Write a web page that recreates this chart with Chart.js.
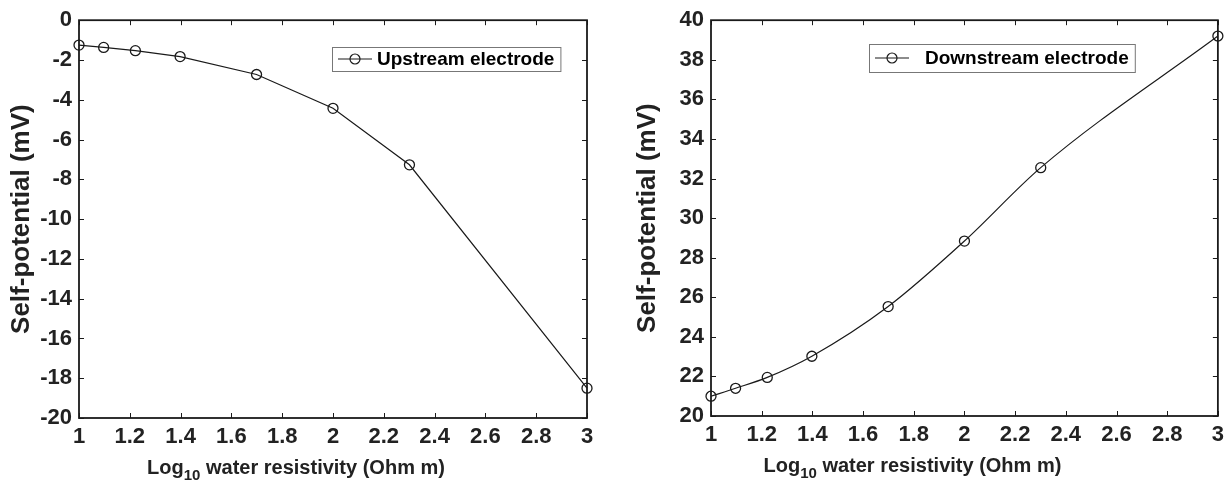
<!DOCTYPE html>
<html>
<head>
<meta charset="utf-8">
<script src="https://cdn.jsdelivr.net/npm/chart.js@4.4.1/dist/chart.umd.min.js"></script>
<style>
  html, body { margin: 0; padding: 0; background: #fff; }
  #wrap { position: relative; width: 1230px; height: 494px; }
  .box { position: absolute; top: 0; width: 615px; height: 494px; }
</style>
</head>
<body>
<div id="wrap">
  <div class="box" style="left:0"><canvas id="upChart" width="615" height="494"></canvas></div>
  <div class="box" style="left:615px"><canvas id="downChart" width="615" height="494"></canvas></div>
</div>
<script>
// log10 of water resistivity
const xValues = [1, 1.097, 1.222, 1.398, 1.699, 2, 2.301, 3];
const upstream = [-1.25, -1.37, -1.53, -1.83, -2.73, -4.43, -7.27, -18.5];
const downstream = [21.0, 21.4, 21.95, 23.02, 25.53, 28.84, 32.55, 39.2];

const xTicks = [1, 1.2, 1.4, 1.6, 1.8, 2, 2.2, 2.4, 2.6, 2.8, 3];
const xTickLabels = ["1", "1.2", "1.4", "1.6", "1.8", "2", "2.2", "2.4", "2.6", "2.8", "3"];
const upTicks = [-20, -18, -16, -14, -12, -10, -8, -6, -4, -2, 0];
const upTickLabels = ["-20", "-18", "-16", "-14", "-12", "-10", "-8", "-6", "-4", "-2", "0"];
const downTicks = [20, 22, 24, 26, 28, 30, 32, 34, 36, 38, 40];
const downTickLabels = ["20", "22", "24", "26", "28", "30", "32", "34", "36", "38", "40"];

const FONT = "'Liberation Sans', Arial, sans-serif";
const INK = "#1a1a1a";

// frame, inward ticks, legend and x title (with subscript)
const framePlugin = {
  id: "frame",
  afterDraw(chart, args, opts) {
    const { ctx, chartArea: a, scales } = chart;
    const x = scales.x;
    const y = scales.y;
    ctx.save();

    ctx.strokeStyle = INK;
    ctx.lineWidth = 1;
    x.ticks.forEach((t) => {
      const px = Math.round(x.getPixelForValue(t.value)) + 0.5;
      ctx.beginPath();
      ctx.moveTo(px, a.bottom);
      ctx.lineTo(px, a.bottom - 5);
      ctx.moveTo(px, a.top);
      ctx.lineTo(px, a.top + 5);
      ctx.stroke();
    });
    y.ticks.forEach((t) => {
      const py = Math.round(y.getPixelForValue(t.value)) + 0.5;
      ctx.beginPath();
      ctx.moveTo(a.left, py);
      ctx.lineTo(a.left + 5, py);
      ctx.moveTo(a.right, py);
      ctx.lineTo(a.right - 5, py);
      ctx.stroke();
    });

    ctx.lineWidth = 1.8;
    ctx.strokeRect(a.left, a.top, a.right - a.left, a.bottom - a.top);

    // legend
    const lg = opts.legend;
    ctx.font = "bold 19px " + FONT;
    const tw = ctx.measureText(lg.text).width;
    const w = lg.textOffset + tw + 6;
    ctx.fillStyle = "#fff";
    ctx.fillRect(lg.x, lg.y, w, lg.h);
    ctx.lineWidth = 1;
    ctx.strokeStyle = "#777";
    ctx.strokeRect(lg.x + 0.5, lg.y + 0.5, w, lg.h);
    const my = lg.y + lg.h / 2;
    ctx.strokeStyle = INK;
    ctx.lineWidth = 1.2;
    ctx.beginPath();
    ctx.moveTo(lg.x + 6, my);
    ctx.lineTo(lg.x + lg.lineLen + 6, my);
    ctx.stroke();
    ctx.beginPath();
    ctx.arc(lg.x + 6 + lg.lineLen / 2, my, 5, 0, Math.PI * 2);
    ctx.stroke();
    ctx.fillStyle = "#000";
    ctx.textBaseline = "middle";
    ctx.textAlign = "left";
    ctx.fillText(lg.text, lg.x + lg.textOffset, my + 1);

    // x axis title: Log10 water resistivity (Ohm m)
    const big = "bold 20px " + FONT;
    const small = "bold 15px " + FONT;
    ctx.font = big;
    const w1 = ctx.measureText("Log").width;
    const w3 = ctx.measureText(" water resistivity (Ohm m)").width;
    ctx.font = small;
    const w2 = ctx.measureText("10").width;
    const total = w1 + w2 + w3;
    let tx = (a.left + a.right) / 2 - total / 2 + opts.titleShift;
    const ty = opts.titleY;
    ctx.textBaseline = "alphabetic";
    ctx.fillStyle = "#222";
    ctx.font = big;
    ctx.fillText("Log", tx, ty);
    tx += w1;
    ctx.font = small;
    ctx.fillText("10", tx, ty + 6);
    tx += w2;
    ctx.font = big;
    ctx.fillText(" water resistivity (Ohm m)", tx, ty);

    ctx.restore();
  },
};

function makeChart(canvasId, values, yTicks, yTickLabels, cfg) {
  const points = xValues.map((v, i) => ({ x: v, y: values[i] }));
  return new Chart(document.getElementById(canvasId), {
    type: "line",
    data: {
      datasets: [
        {
          label: cfg.legend.text,
          data: points,
          borderColor: INK,
          borderWidth: 1.2,
          pointRadius: 5,
          pointHoverRadius: 5,
          pointBorderWidth: 1.3,
          pointBorderColor: INK,
          pointBackgroundColor: "rgba(0,0,0,0)",
          cubicInterpolationMode: cfg.smooth ? "monotone" : "default",
          tension: 0,
          clip: 8,
        },
      ],
    },
    options: {
      responsive: false,
      animation: false,
      layout: { padding: cfg.padding },
      plugins: {
        legend: { display: false },
        tooltip: { enabled: false },
        frame: { legend: cfg.legend, titleShift: cfg.titleShift, titleY: cfg.titleY },
      },
      scales: {
        x: {
          type: "linear",
          min: 1,
          max: 3,
          grid: { display: false, drawTicks: false },
          border: { display: false },
          afterBuildTicks: (scale) => {
            scale.ticks = xTicks.map((v) => ({ value: v }));
          },
          afterFit: (scale) => {
            scale.height = cfg.xHeight;
          },
          ticks: {
            padding: 6,
            color: "#222",
            maxRotation: 0,
            autoSkip: false,
            font: { family: FONT, size: 22, weight: "bold" },
            callback: (value) => {
              const i = xTicks.findIndex((t) => Math.abs(t - value) < 1e-6);
              return i >= 0 ? xTickLabels[i] : "";
            },
          },
        },
        y: {
          type: "linear",
          min: yTicks[0],
          max: yTicks[yTicks.length - 1],
          grid: { display: false, drawTicks: false },
          border: { display: false },
          afterBuildTicks: (scale) => {
            scale.ticks = yTicks.map((v) => ({ value: v }));
          },
          afterFit: (scale) => {
            scale.width = cfg.yWidth;
          },
          title: {
            display: true,
            text: "Self-potential (mV)",
            color: "#222",
            font: { family: FONT, size: 26, weight: "bold", lineHeight: 1.2 },
            padding: { top: cfg.yTitlePad, bottom: 0 },
          },
          ticks: {
            padding: 7,
            color: "#222",
            autoSkip: false,
            font: { family: FONT, size: 22, weight: "bold" },
            callback: (value) => {
              const i = yTicks.findIndex((t) => Math.abs(t - value) < 1e-6);
              return i >= 0 ? yTickLabels[i] : "";
            },
          },
        },
      },
    },
    plugins: [framePlugin],
  });
}

makeChart("upChart", upstream, upTicks, upTickLabels, {
  padding: { left: 0, top: 18, right: 28, bottom: 0 },
  yWidth: 79,
  xHeight: 76,
  yTitlePad: 6,
  titleShift: -37,
  titleY: 474,
  smooth: false,
  legend: { text: "Upstream electrode", x: 332, y: 47, h: 24, lineLen: 34, textOffset: 45 },
});

makeChart("downChart", downstream, downTicks, downTickLabels, {
  padding: { left: 0, top: 15, right: 12, bottom: 0 },
  yWidth: 96,
  xHeight: 78,
  yTitlePad: 17,
  titleShift: -52,
  titleY: 472,
  smooth: true,
  legend: { text: "Downstream electrode", x: 254, y: 44, h: 28, lineLen: 34, textOffset: 56 },
});
</script>
</body>
</html>
